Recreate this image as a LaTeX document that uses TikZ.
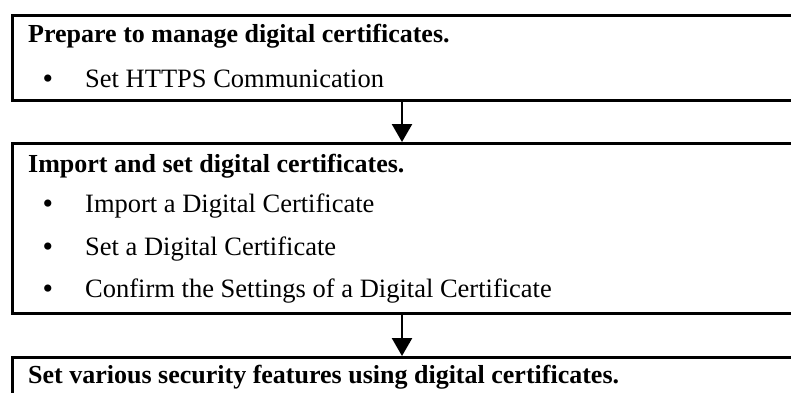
\documentclass[tikz,border=0pt]{standalone}
\usepackage{fontspec}
\setmainfont{Liberation Serif}
\usetikzlibrary{arrows.meta}
\begin{document}
\begin{tikzpicture}[x=1pt,y=-1pt,
  frame/.style={draw=black,line width=3pt,rectangle,anchor=north west,minimum width=820pt,inner sep=0pt},
  head/.style={anchor=base west,inner sep=0pt,font=\fontsize{26}{30}\selectfont\bfseries},
  item/.style={anchor=base west,inner sep=0pt,font=\fontsize{26.5}{30}\selectfont},
  dot/.style={anchor=base,inner sep=0pt,font=\fontsize{30}{30}\selectfont},
  arr/.style={line width=2.5pt,-{Triangle[width=20pt,length=18pt]}}]
\useasboundingbox (0,0) rectangle (791,392);
\clip (0,0) rectangle (791,392);
\node[frame,minimum height=85pt] (box1) at (11,14) {};
\node[frame,minimum height=170pt] (box2) at (11,142) {};
\node[frame,minimum height=70pt] (box3) at (11,356) {};
\coordinate (ax) at (402,0);
\node[head] (t1) at (28,42) {Prepare to manage digital certificates.};
\node[dot] (b11) at (48,88) {•};
\node[item] (t11) at (85,87) {Set HTTPS Communication};
\node[head] (t2) at (28,172) {Import and set digital certificates.};
\node[dot] (b21) at (48,213) {•};
\node[item] (t21) at (85,212) {Import a Digital Certificate};
\node[dot] (b22) at (48,256) {•};
\node[item] (t22) at (85,255) {Set a Digital Certificate};
\node[dot] (b23) at (48,298) {•};
\node[item] (t23) at (85,297) {Confirm the Settings of a Digital Certificate};
\node[head] (t3) at (28,383) {Set various security features using digital certificates.};
\draw[arr] (box1.south -| ax) -- (box2.north -| ax);
\draw[arr] (box2.south -| ax) -- (box3.north -| ax);
\end{tikzpicture}
\end{document}
